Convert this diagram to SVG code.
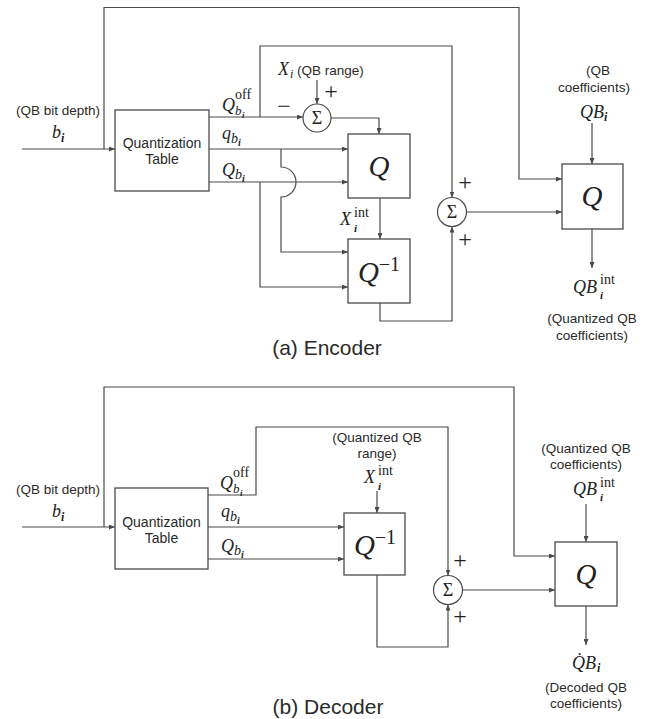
<svg xmlns="http://www.w3.org/2000/svg" width="651" height="719" viewBox="0 0 651 719">
<style>
.bg{fill:#ffffff}
.box{fill:#ffffff;stroke:#4a4a4a;stroke-width:1.3}
.sum{fill:#ffffff;stroke:#4a4a4a;stroke-width:1.2}
.ln{fill:none;stroke:#4a4a4a;stroke-width:1.2}
.ar{marker-end:url(#ah)}
.lbl{font-family:"Liberation Sans",Arial,sans-serif;font-size:13.5px;fill:#2a2a2a;text-anchor:middle}
.qt{font-family:"Liberation Sans",Arial,sans-serif;font-size:14px;fill:#2a2a2a;text-anchor:middle}
.cap{font-family:"Liberation Sans",Arial,sans-serif;font-size:21px;fill:#2a2a2a;text-anchor:middle}
.m{font-family:"Liberation Serif","DejaVu Serif",serif;font-style:italic;font-size:18px;fill:#222}
.up{font-style:normal}
.big{font-family:"Liberation Serif","DejaVu Serif",serif;font-style:italic;font-size:29px;fill:#222;text-anchor:middle}
.op{font-family:"Liberation Serif","DejaVu Serif",serif;font-size:24px;fill:#222;text-anchor:middle}
.sig{font-family:"Liberation Serif","DejaVu Serif",serif;font-size:18px;fill:#222;text-anchor:middle}
</style>
<defs>
<marker id="ah" markerWidth="6" markerHeight="5" refX="6" refY="2.5" orient="auto" markerUnits="userSpaceOnUse">
<path d="M0,0 L6,2.5 L0,5 z" fill="#4a4a4a"/>
</marker>
</defs>
<rect class="bg" x="0" y="0" width="651" height="719"/>

<!-- ================= ENCODER ================= -->
<g id="connectors-encoder">
<path class="ln ar" d="M22,149 H115"/>
<path class="ln ar" d="M104,149 V7.5 H519 V179 H562"/>
<path class="ln ar" d="M209,117 H303"/>
<path class="ln ar" d="M260,117 V46 H452 V197.5"/>
<path class="ln ar" d="M317,80 V104"/>
<path class="ln ar" d="M331,118 H379 V134"/>
<path class="ln ar" d="M209,149 H348"/>
<path class="ln ar" d="M209,182 H348"/>
<path class="ln ar" d="M281,149 V167 A15,15 0 0 1 281,197 V252 H348"/>
<path class="ln ar" d="M260,182 V287 H348"/>
<path class="ln ar" d="M380,198 V239"/>
<path class="ln ar" d="M380,303 V321 H452 V226.5"/>
<path class="ln ar" d="M466.5,212 H562"/>
<path class="ln ar" d="M592,123 V164"/>
<path class="ln ar" d="M592,229 V268"/>
</g>

<g id="enc-input">
<text class="lbl" x="58" y="115">(QB bit depth)</text>
<text class="m" x="52" y="138">b<tspan font-size="12" font-weight="bold" dy="4">i</tspan></text>
</g>

<g id="enc-qtable">
<rect class="box" x="115" y="110" width="94" height="81"/>
<text class="qt" x="162" y="148">Quantization</text>
<text class="qt" x="162" y="164">Table</text>
</g>

<g id="enc-labels">
<text class="m"><tspan x="222" y="111">Q</tspan><tspan class="up" x="235" y="99" font-size="14">off</tspan><tspan x="235" y="115" font-size="13">b</tspan><tspan x="242" y="118" font-size="9" font-weight="bold">i</tspan></text>
<text class="m"><tspan x="222" y="139">q</tspan><tspan x="231" y="143" font-size="14">b</tspan><tspan x="238" y="146" font-size="10" font-weight="bold">i</tspan></text>
<text class="m"><tspan x="222" y="176">Q</tspan><tspan x="235" y="179" font-size="14">b</tspan><tspan x="242" y="182" font-size="10" font-weight="bold">i</tspan></text>
</g>

<g id="enc-xi">
<text class="m"><tspan x="278" y="75">X</tspan><tspan x="290" y="78" font-size="12">i</tspan></text>
<text class="lbl" x="297" y="75" style="text-anchor:start">(QB range)</text>
<text class="op" x="331" y="99">+</text>
<text class="op" x="284" y="114">−</text>
</g>

<g id="enc-sum1">
<circle class="sum" cx="317" cy="118" r="14"/>
<text class="sig" x="317" y="124">Σ</text>
</g>

<g id="enc-q">
<rect class="box" x="348" y="134" width="62" height="64"/>
<text class="big" x="379" y="176">Q</text>
</g>

<g id="enc-xint">
<text class="m"><tspan x="340" y="225">X</tspan><tspan class="up" x="354" y="217" font-size="14">int</tspan><tspan x="354" y="232" font-size="11" font-weight="bold">i</tspan></text>
</g>

<g id="enc-qinv">
<rect class="box" x="348" y="239" width="62" height="64"/>
<text class="big" x="379" y="282">Q<tspan class="up" font-size="20" dy="-11">−1</tspan></text>
</g>

<g id="enc-sum2">
<circle class="sum" cx="452" cy="212" r="14.5"/>
<text class="sig" x="452" y="218">Σ</text>
<text class="op" x="465" y="190">+</text>
<text class="op" x="465" y="247">+</text>
</g>

<g id="enc-qright">
<text class="lbl" x="598" y="75">(QB</text>
<text class="lbl" x="594" y="92">coefficients)</text>
<text class="m"><tspan x="580" y="118">QB</tspan><tspan x="604" y="121" font-size="12" font-weight="bold">i</tspan></text>
<rect class="box" x="562" y="164" width="61" height="65"/>
<text class="big" x="592" y="206">Q</text>
<text class="m"><tspan x="573" y="293">QB</tspan><tspan class="up" x="600" y="284" font-size="14">int</tspan><tspan x="600" y="299" font-size="11" font-weight="bold">i</tspan></text>
<text class="lbl" x="592" y="323">(Quantized QB</text>
<text class="lbl" x="592" y="340">coefficients)</text>
</g>

<text class="cap" x="327" y="355">(a) Encoder</text>

<!-- ================= DECODER ================= -->
<g id="connectors-decoder">
<path class="ln ar" d="M22,527 H115"/>
<path class="ln ar" d="M104,527 V387 H514 V556 H555"/>
<path class="ln ar" d="M208,495 H256 V427 H448 V575.5"/>
<path class="ln ar" d="M208,527 H344"/>
<path class="ln ar" d="M208,559 H344"/>
<path class="ln ar" d="M377,491 V513"/>
<path class="ln ar" d="M377,575 V647 H448 V604.5"/>
<path class="ln ar" d="M462.5,590 H555"/>
<path class="ln ar" d="M586,504 V542"/>
<path class="ln ar" d="M586,606 V645"/>
</g>

<g id="dec-input">
<text class="lbl" x="58" y="494">(QB bit depth)</text>
<text class="m" x="52" y="517">b<tspan font-size="12" font-weight="bold" dy="4">i</tspan></text>
</g>

<g id="dec-qtable">
<rect class="box" x="115" y="488" width="93" height="81"/>
<text class="qt" x="161.5" y="527">Quantization</text>
<text class="qt" x="161.5" y="543">Table</text>
</g>

<g id="dec-labels">
<text class="m"><tspan x="220" y="489">Q</tspan><tspan class="up" x="233" y="477" font-size="14">off</tspan><tspan x="233" y="493" font-size="13">b</tspan><tspan x="240" y="496" font-size="9" font-weight="bold">i</tspan></text>
<text class="m"><tspan x="221" y="517">q</tspan><tspan x="230" y="521" font-size="14">b</tspan><tspan x="237" y="524" font-size="10" font-weight="bold">i</tspan></text>
<text class="m"><tspan x="221" y="552">Q</tspan><tspan x="234" y="555" font-size="14">b</tspan><tspan x="241" y="558" font-size="10" font-weight="bold">i</tspan></text>
</g>

<g id="dec-xint">
<text class="lbl" x="377" y="442">(Quantized QB</text>
<text class="lbl" x="377" y="458">range)</text>
<text class="m"><tspan x="364" y="483">X</tspan><tspan class="up" x="378" y="475" font-size="14">int</tspan><tspan x="378" y="490" font-size="11" font-weight="bold">i</tspan></text>
</g>

<g id="dec-qinv">
<rect class="box" x="344" y="513" width="61" height="62"/>
<text class="big" x="375" y="555">Q<tspan class="up" font-size="20" dy="-11">−1</tspan></text>
</g>

<g id="dec-sum">
<circle class="sum" cx="448" cy="590" r="14.5"/>
<text class="sig" x="448" y="596">Σ</text>
<text class="op" x="460" y="568">+</text>
<text class="op" x="460" y="624">+</text>
</g>

<g id="dec-qright">
<text class="lbl" x="586" y="453">(Quantized QB</text>
<text class="lbl" x="586" y="469">coefficients)</text>
<text class="m"><tspan x="573" y="495">QB</tspan><tspan class="up" x="600" y="487" font-size="14">int</tspan><tspan x="600" y="501" font-size="11" font-weight="bold">i</tspan></text>
<rect class="box" x="555" y="542" width="62" height="64"/>
<text class="big" x="586" y="584">Q</text>
<text class="m"><tspan x="572" y="669">Q̇B</tspan><tspan x="597" y="672" font-size="12" font-weight="bold">i</tspan></text>
<text class="lbl" x="586" y="692">(Decoded QB</text>
<text class="lbl" x="586" y="708">coefficients)</text>
</g>

<text class="cap" x="328" y="714">(b) Decoder</text>
</svg>
